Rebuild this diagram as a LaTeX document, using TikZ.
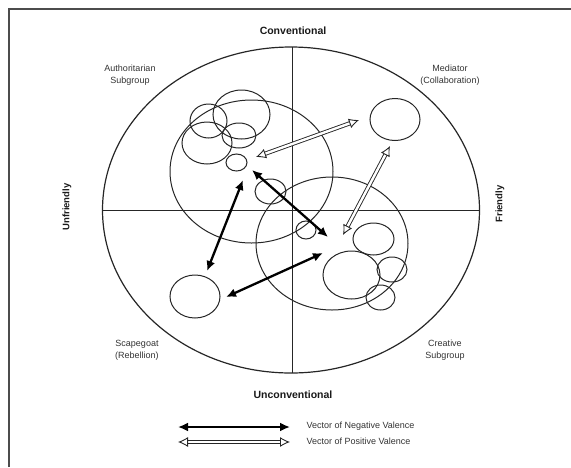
\documentclass[tikz,border=0pt]{standalone}
\usepackage{fontspec}
\setmainfont{Liberation Sans}
\usetikzlibrary{positioning,arrows.meta}
\tikzset{
  ring/.style   = {draw=black!85, line width=1pt},
  field/.style  = {draw=black!85, line width=1.2pt},
  axis/.style   = {draw=black!85, line width=1pt},
  negvec/.style = {{Latex[length=10pt,width=9pt]}-{Latex[length=10pt,width=9pt]},
                   line width=2.3pt, draw=black},
  posvec/.style = {{Latex[open,length=10pt,width=10pt]}-{Latex[open,length=10pt,width=10pt]},
                   draw=black!85, line width=0.9pt, double=white, double distance=2.4pt},
  quad/.style   = {font=\fontsize{9}{12}\selectfont, align=center, text=black!80},
  pole/.style   = {font=\fontsize{10.5}{12}\selectfont\bfseries, text=black!90},
  key/.style    = {font=\fontsize{9}{11}\selectfont, text=black!80, anchor=west},
}

\begin{document}
\begin{tikzpicture}[x=1pt, y=-1pt]
  \useasboundingbox (0,0) rectangle (571,467);
  \draw[line width=1.2pt, black!70] (9,467) -- (9,9) -- (571,9);

  % the group field and its two axes
  \coordinate (c) at (291,210);
  \draw[field] (c) ellipse [x radius=188.5, y radius=163];
  \path (c) +(-188.5,0) coordinate (W) +(188.5,0) coordinate (E)
            +(1.5,-163) coordinate (N) +(1.5,163) coordinate (S);
  \draw[axis] (W) -- (E);
  \draw[axis] (N) -- (S);

  \node[pole] (conv) at (293,31) {Conventional};
  \node[pole] (unconv) at (293,395) {Unconventional};
  \node[pole, font=\fontsize{9.5}{11}\selectfont\bfseries, rotate=90] (unfr) at (67,207) {Unfriendly};
  \node[pole, font=\fontsize{9.5}{11}\selectfont\bfseries, rotate=90] (fr) at (500,204) {Friendly};

  \node[quad] (auth) at (130,75) {Authoritarian\\Subgroup};
  \node[quad] (med) at (450,75) {Mediator\\(Collaboration)};
  \node[quad] (scape) at (137,350) {Scapegoat\\(Rebellion)};
  \node[quad] (creat) at (445,350) {Creative\\Subgroup};

  % subgroups and members
  \foreach \x/\y/\rx/\ry in {%
    251.5/171.5/81.5/71.5, 332/243.5/76/66.5,
    208.5/121/18.5/17, 241.5/114.5/28.5/24.5, 207/143/25/21, 239/135.5/17/12.5,
    236.5/162.5/10.5/8.5, 270.5/191.5/15.5/12.5, 306/230/10/9,
    373.5/239/20.5/16, 351.5/275/28.5/24, 392/269.5/15/12.5, 380.5/297.5/14.5/12.5,
    395/119.5/25/21, 195/296.5/25/21.5%
  } {
    \draw[ring] (\x,\y) ellipse [x radius=\rx, y radius=\ry];
  }

  % vector ends
  \coordinate (medA) at (359,120);
  \coordinate (authA) at (256,157);
  \coordinate (medB) at (390,146);
  \coordinate (creatA) at (343,235);
  \coordinate (authB) at (252,170);
  \coordinate (creatB) at (328,237);
  \coordinate (authC) at (243,180);
  \coordinate (scapeA) at (207,271);
  \coordinate (scapeB) at (226,297);
  \coordinate (creatC) at (323,253);

  \draw[posvec] (authA) -- (medA);
  \draw[posvec] (creatA) -- (medB);
  \draw[negvec] (authB) -- (creatB);
  \draw[negvec] (authC) -- (scapeA);
  \draw[negvec] (scapeB) -- (creatC);

  % legend
  \coordinate (negL) at (178,427);
  \coordinate (negR) at (290,427);
  \coordinate (posL) at (178,442);
  \coordinate (posR) at (290,442);
  \draw[negvec] (negL) -- (negR);
  \draw[posvec] (posL) -- (posR);
  \node[key] (negkey) at (303,426) {Vector of Negative Valence};
  \node[key] (poskey) at (303,441) {Vector of Positive Valence};
\end{tikzpicture}
\end{document}
